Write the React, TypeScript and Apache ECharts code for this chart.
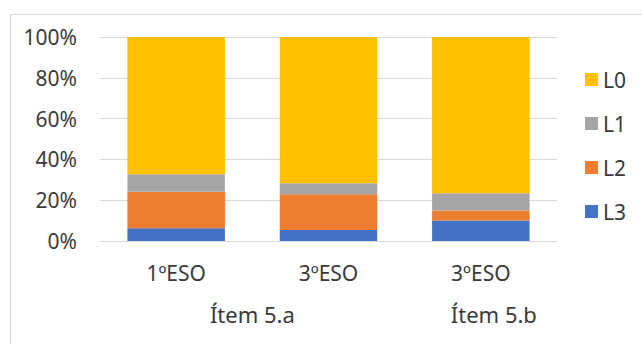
import React, { useEffect, useRef } from "react";
import * as echarts from "echarts";

const categories = ["1ºESO", "3ºESO", "3ºESO"];
const groupLabels = ["Ítem 5.a", "Ítem 5.b"];
const groupPositions = [0.5, 2];
const yTicks = [0, 20, 40, 60, 80, 100];
const seriesNames = ["L3", "L2", "L1", "L0"];
const L3 = [6.2, 5.4, 10.0];
const L2 = [18.0, 17.5, 4.9];
const L1 = [8.5, 5.4, 8.5];
const L0 = [67.3, 71.7, 76.6];
const colors: Record<string, string> = {
  L0: "#FFC000",
  L1: "#A5A5A5",
  L2: "#ED7D31",
  L3: "#4472C4",
};

const FONT = "'Noto Sans', sans-serif";
const TEXT = "#3a3a3a";

export default function App() {
  const ref = useRef<HTMLDivElement>(null);
  useEffect(() => {
    if (!ref.current) return;
    const chart = echarts.init(ref.current, null, { renderer: "svg" });
    const values = [L3, L2, L1, L0];
    chart.setOption({
      animation: false,
      backgroundColor: "#ffffff",
      textStyle: { fontFamily: FONT },
      graphic: [
        {
          type: "rect",
          left: 8,
          top: 12,
          shape: { width: 700, height: 400 },
          style: { fill: "none", stroke: "#d9d9d9", lineWidth: 1 },
          silent: true,
        },
      ],
      grid: { left: 100, right: 85, top: 37, bottom: 103 },
      legend: {
        data: ["L0", "L1", "L2", "L3"],
        orient: "vertical",
        left: 580,
        top: 64,
        itemWidth: 13,
        itemHeight: 13,
        itemGap: 23,
        icon: "rect",
        textStyle: { fontSize: 21, color: TEXT, fontFamily: FONT, lineHeight: 21 },
      },
      xAxis: [
        {
          type: "category",
          data: categories,
          axisLine: { show: false },
          axisTick: { show: false },
          axisLabel: { fontSize: 21, color: TEXT, margin: 21, fontFamily: FONT },
        },
        {
          type: "value",
          position: "bottom",
          min: -0.5,
          max: 2.5,
          interval: 0.5,
          axisLine: { show: false },
          axisTick: { show: false },
          splitLine: { show: false },
          axisLabel: {
            color: TEXT,
            margin: 62,
            fontFamily: FONT,
            fontSize: 22,
            showMinLabel: true,
            showMaxLabel: true,
            formatter: (v: number) => {
              const i = groupPositions.findIndex((p) => Math.abs(p - v) < 1e-6);
              if (i < 0) return "";
              return i === 1 ? `{b|${groupLabels[i]}}` : `{a|${groupLabels[i]}}`;
            },
            rich: {
              a: { fontSize: 22, color: TEXT, fontFamily: FONT },
              b: { fontSize: 22, color: TEXT, fontFamily: FONT, padding: [0, 0, 0, 26] },
            },
          },
        },
      ],
      yAxis: {
        type: "value",
        min: yTicks[0],
        max: yTicks[yTicks.length - 1],
        interval: 20,
        axisLine: { show: false },
        axisTick: { show: false },
        splitLine: { lineStyle: { color: "#d9d9d9", width: 1 } },
        axisLabel: {
          fontSize: 21,
          color: TEXT,
          margin: 23,
          fontFamily: FONT,
          formatter: (v: number) => `${v}%`,
        },
      },
      series: seriesNames.map((name, i) => ({
        name,
        type: "bar",
        stack: "total",
        xAxisIndex: 0,
        barWidth: "64%",
        data: values[i],
        itemStyle: { color: colors[name] },
      })),
    });
    return () => chart.dispose();
  }, []);
  return (
    <div
      ref={ref}
      style={{ position: "fixed", left: 0, top: 0, width: 642, height: 344 }}
    />
  );
}
